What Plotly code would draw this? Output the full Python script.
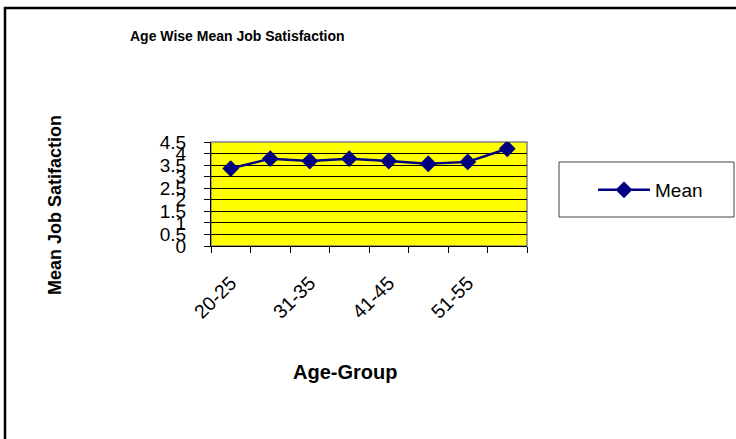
import plotly.graph_objects as go

# ---- data ----
age_groups = ["20-25", "26-30", "31-35", "36-40", "41-45", "46-50", "51-55", "56-60"]
mean_satisfaction = [3.35, 3.78, 3.68, 3.78, 3.68, 3.56, 3.64, 4.21]
x_tick_text = ["20-25", "", "31-35", "", "41-45", "", "51-55", ""]
y_tick_vals = [0, 0.5, 1, 1.5, 2, 2.5, 3, 3.5, 4, 4.5]
y_tick_text = ["0", "0.5", "1", "1.5", "2", "2.5", "3", "3.5", "4", "4.5"]

W, H = 736, 439
FONT = "Liberation Sans, Arial, sans-serif"
NAVY = "#000080"

def px(x):
    return x / W

def py(y):
    return 1 - y / H

fig = go.Figure()
fig.add_trace(go.Scatter(
    x=age_groups, y=mean_satisfaction, name="Mean",
    mode="lines+markers",
    line=dict(color=NAVY, width=2.5),
    marker=dict(symbol="diamond", size=13, color=NAVY),
))

fig.update_layout(
    width=W, height=H,
    margin=dict(l=0, r=0, t=0, b=0, pad=0, autoexpand=False),
    paper_bgcolor="white",
    plot_bgcolor="#FFFF00",
    font=dict(family=FONT, color="black"),
    showlegend=True,
    legend=dict(
        x=px(593), y=py(190), xanchor="left", yanchor="middle",
        bgcolor="rgba(0,0,0,0)", borderwidth=0,
        font=dict(size=19, family=FONT, color="black"),
        itemwidth=52,
    ),
    xaxis=dict(
        domain=[px(211), px(527)],
        type="category",
        tickmode="array", tickvals=age_groups, ticktext=x_tick_text,
        tickson="boundaries",
        ticks="outside", ticklen=6, tickcolor="black", tickwidth=1,
        tickangle=-45,
        tickfont=dict(size=19.5, family=FONT, color="black"),
        ticklabelstandoff=17,
        showline=True, linecolor="black", linewidth=1,
        showgrid=False, zeroline=False, automargin=False,
        range=[-0.5, 7.5],
    ),
    yaxis=dict(
        domain=[py(246), py(142)],
        range=[0, 4.5],
        tickmode="array", tickvals=y_tick_vals, ticktext=y_tick_text,
        ticks="outside", ticklen=6, tickcolor="black", tickwidth=1,
        tickfont=dict(size=19, family=FONT, color="black"),
        ticklabelstandoff=14,
        showline=True, linecolor="black", linewidth=1,
        showgrid=True, gridcolor="black", gridwidth=1,
        zeroline=False, automargin=False,
    ),
    shapes=[
        # outer chart border
        dict(type="rect", xref="paper", yref="paper",
             x0=px(5), x1=px(760), y0=py(460), y1=py(8),
             line=dict(color="black", width=2.5), fillcolor="rgba(0,0,0,0)"),
        # plot area border
        dict(type="rect", xref="x domain", yref="y domain",
             x0=0, x1=1, y0=0, y1=1,
             line=dict(color="#808080", width=1.5), fillcolor="rgba(0,0,0,0)",
             layer="below"),
        # legend box
        dict(type="rect", xref="paper", yref="paper",
             x0=px(559), x1=px(734), y0=py(217), y1=py(162),
             line=dict(color="#404040", width=1), fillcolor="white"),
    ],
    annotations=[
        dict(text="<b>Age Wise Mean Job Satisfaction</b>", xref="paper", yref="paper",
             x=px(237), y=py(36), xanchor="center", yanchor="middle",
             showarrow=False, font=dict(size=14, family=FONT, color="black")),
        dict(text="<b>Mean Job Satifaction</b>", xref="paper", yref="paper",
             x=px(55), y=py(205), xanchor="center", yanchor="middle",
             textangle=-90, showarrow=False,
             font=dict(size=18, family=FONT, color="black")),
        dict(text="<b>Age-Group</b>", xref="paper", yref="paper",
             x=px(345), y=py(372), xanchor="center", yanchor="middle",
             showarrow=False, font=dict(size=20, family=FONT, color="black")),
    ],
)

fig.write_html("out.html")
